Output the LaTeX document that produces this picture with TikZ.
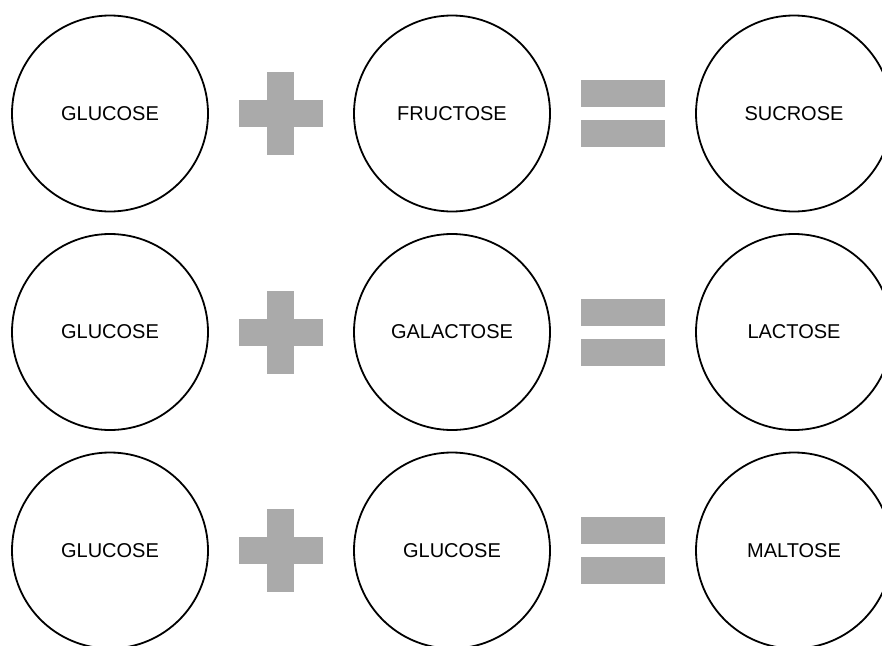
\documentclass[tikz,border=0pt]{standalone}
\usepackage{fontspec}
\setmainfont{Liberation Sans}
\definecolor{barg}{HTML}{AAAAAA}
\begin{document}
\begin{tikzpicture}[x=1pt,y=-1pt,
  sugar/.style={circle,draw=black,line width=1.8pt,minimum size=196pt,inner sep=0pt,font=\fontsize{20}{24}\selectfont},
  bar/.style={fill=barg,draw=none}]
\useasboundingbox (0,0) rectangle (882,645);
\foreach \r/\y/\a/\b/\c in {1/113.5/GLUCOSE/FRUCTOSE/SUCROSE,
                            2/332/GLUCOSE/GALACTOSE/LACTOSE,
                            3/550.5/GLUCOSE/GLUCOSE/MALTOSE}{
  \node[sugar] (left\r) at (110,\y) {\a};
  \node[sugar] (mid\r) at (452,\y) {\b};
  \node[sugar] (res\r) at (794,\y) {\c};
  % plus sign
  \fill[bar] (239,\y-13.5) rectangle (323,\y+13.5);
  \fill[bar] (267,\y-41.5) rectangle (294,\y+41.5);
  % equals sign
  \fill[bar] (581,\y-33.5) rectangle (665,\y-6.5);
  \fill[bar] (581,\y+6.5) rectangle (665,\y+33.5);
}
\end{tikzpicture}
\end{document}
